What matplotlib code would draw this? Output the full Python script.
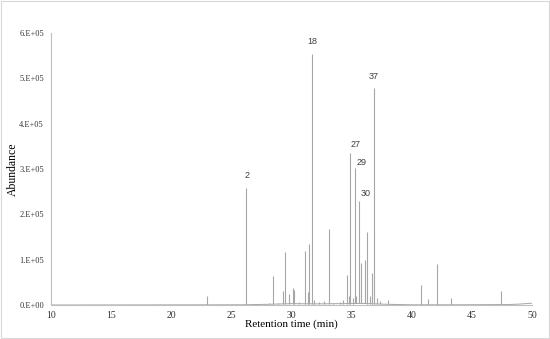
import numpy as np
import matplotlib
matplotlib.use("Agg")
import matplotlib.pyplot as plt
from matplotlib.patches import Rectangle

# Pics du chromatogramme (temps de rétention en min, abondance)
peak_time = [23.0, 26.2, 27.6, 28.1, 28.5, 28.9, 29.3, 29.5, 29.8, 30.1, 30.2,
             30.6, 31.1, 31.4, 31.5, 31.7, 31.9, 32.3, 32.7, 33.1, 33.5, 34.0,
             34.3, 34.6, 34.8, 34.9, 35.1, 35.25, 35.4, 35.6, 35.8, 36.1,
             36.25, 36.5, 36.7, 36.85, 37.1, 37.4, 38.0, 40.8, 41.4, 42.1,
             43.3, 47.4]
peak_height = [2.0e4, 2.58e5, 3.0e3, 4.0e3, 6.4e4, 4.0e3, 3.0e4, 1.18e5, 2.4e4,
               3.7e4, 3.3e4, 6.0e3, 1.2e5, 2.9e4, 1.35e5, 5.54e5, 1.0e4, 6.0e3,
               8.0e3, 1.67e5, 5.0e3, 6.0e3, 1.2e4, 6.6e4, 2.0e4, 3.36e5, 1.5e4,
               3.03e5, 2.0e4, 2.3e5, 9.3e4, 1.0e5, 1.6e5, 2.0e4, 7.0e4, 4.78e5,
               1.5e4, 8.0e3, 1.2e4, 4.4e4, 1.3e4, 9.0e4, 1.6e4, 3.0e4]

# Ligne de base (légère dérive en fin de chromatogramme)
base_time = [10, 26, 28, 30, 32, 34, 36, 38, 40, 44, 48, 49, 50]
base_level = [0, 500, 1500, 3000, 2500, 3000, 3500, 1500, 500, 500, 1000, 2000, 4000]

# Annotations des composés
label_text = ["2", "18", "27", "29", "30", "37"]
label_x = [26.27, 31.7, 35.3, 35.8, 36.2, 36.85]
label_y = [2.85e5, 5.81e5, 3.55e5, 3.14e5, 2.45e5, 5.03e5]

yticks = [0, 1e5, 2e5, 3e5, 4e5, 5e5, 6e5]
ytick_labels = ["0.E+00", "1.E+05", "2.E+05", "3.E+05", "4.E+05", "5.E+05", "6.E+05"]
xticks = [10, 15, 20, 25, 30, 35, 40, 45, 50]

serif = ["Liberation Serif", "DejaVu Serif"]
line_col = "#a6a6a6"

fig = plt.figure(figsize=(5.5, 3.39), dpi=100)
ax = fig.add_axes([0.0927, 0.1003, 0.8743, 0.8024])

# Trace : ligne de base + pics fins
ax.plot(base_time, base_level, color=line_col, lw=0.7)
base_at_peak = np.interp(peak_time, base_time, base_level)
ax.vlines(peak_time, base_at_peak, peak_height, color=line_col, lw=0.8)

for t, x, y in zip(label_text, label_x, label_y):
    ax.text(x, y, t, ha="center", va="center", fontsize=6.5,
            family=["Liberation Sans", "DejaVu Sans"], color="#404040")

ax.set_xlim(10, 50)
ax.set_ylim(0, 6e5)
ax.set_xticks(xticks)
ax.set_xticklabels([str(v) for v in xticks], family=serif, fontsize=7)
ax.set_yticks(yticks)
ax.set_yticklabels(ytick_labels, family=serif, fontsize=6)
ax.tick_params(length=0, pad=5, colors="#333333")
ax.tick_params(axis="x", pad=4)

ax.set_xlabel("Retention time (min)", family=serif, fontsize=8, labelpad=0)
ax.set_ylabel("Abundance", family=serif, fontsize=8.5, labelpad=0)

for s in ["top", "right"]:
    ax.spines[s].set_visible(False)
for s in ["left", "bottom"]:
    ax.spines[s].set_color("#bfbfbf")
    ax.spines[s].set_linewidth(0.8)

# Cadre autour de la figure
fig.patches.append(Rectangle((0.002, 0.003), 0.996, 0.994, transform=fig.transFigure,
                             fill=False, edgecolor="#d9d9d9", lw=0.8))

fig.savefig("out.png", dpi=100)
